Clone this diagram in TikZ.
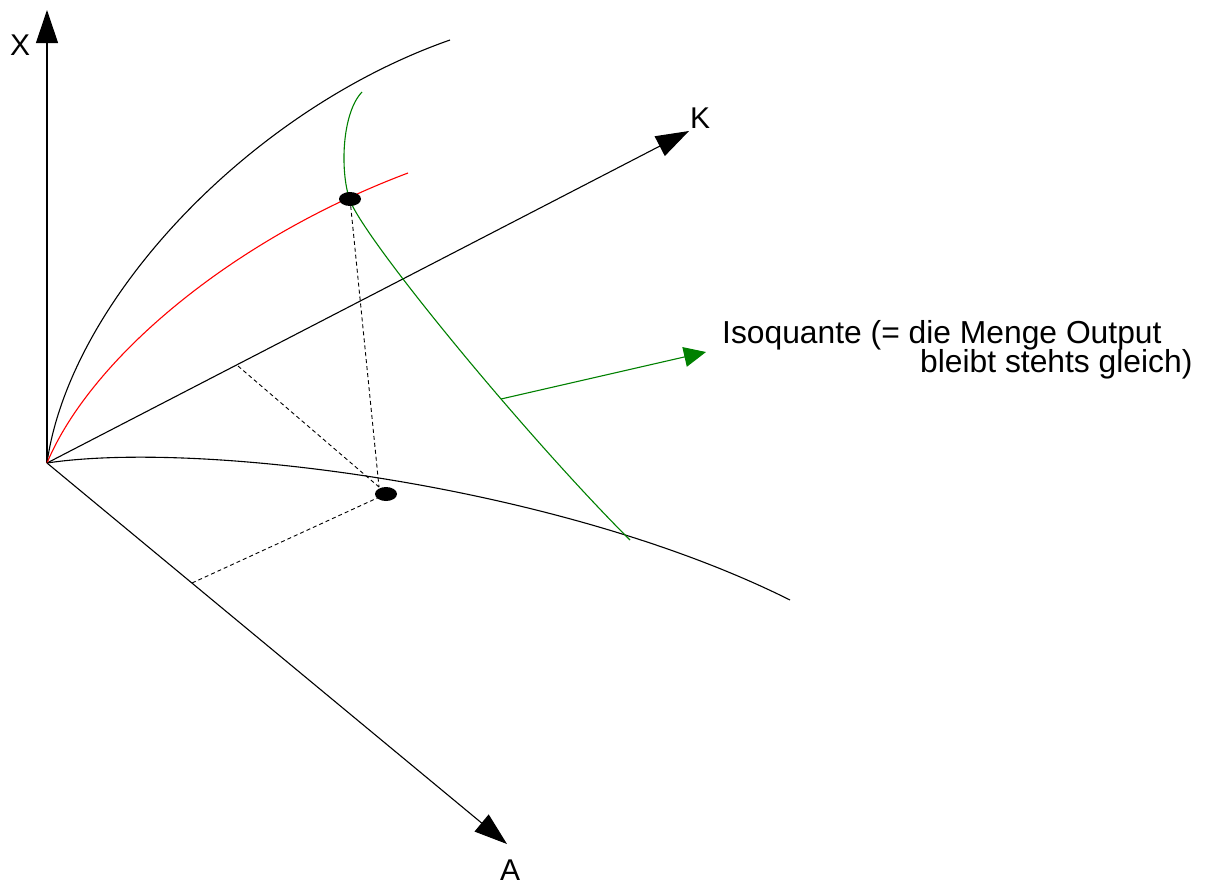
\documentclass[tikz,border=0pt]{standalone}
\usepackage{fontspec}
\setmainfont{Liberation Sans}
\usetikzlibrary{arrows.meta,shapes.geometric}
\definecolor{isogreen}{RGB}{0,128,0}
\begin{document}
\begin{tikzpicture}[x=1pt,y=-1pt,
  axis/.style={line width=1.1pt,-{Triangle[length=33pt,width=22pt]}},
  curve/.style={line width=1.1pt},
  guide/.style={line width=0.9pt,dash pattern=on 4pt off 3pt},
  point/.style={ellipse,fill=black,minimum width=22pt,minimum height=14pt,inner sep=0pt},
  lbl/.style={anchor=base west,inner sep=0pt,font=\fontsize{30}{36}\selectfont},
  note/.style={anchor=base west,inner sep=0pt,font=\fontsize{31.8}{36}\selectfont}]
\useasboundingbox (0,0) rectangle (1209,884);

% axes
\coordinate (O) at (47,463);
\coordinate (Xtip) at (47,10);
\coordinate (Ktip) at (689,131);
\coordinate (Atip) at (507,844);
\draw[axis] (O) -- (Xtip);
\draw[axis] (O) -- (Ktip);
\draw[axis] (O) -- (Atip);
\node[lbl] (lX) at (10,55) {X};
\node[lbl] (lK) at (690,128) {K};
\node[lbl] (lA) at (500,880) {A};

% production curves
\draw[curve] (O) .. controls (70,300) and (250,110) .. (450,40);
\draw[curve,red] (O) .. controls (90,360) and (230,240) .. (408,173);
\draw[curve] (O) .. controls (200,440) and (560,485) .. (790,600);

% isoquant
\draw[curve,isogreen] (362,92) .. controls (340,115) and (340,181) .. (352,205)
  .. controls (377,255) and (530,440) .. (630,540);

% points and projection lines
\node[point] (dotU) at (350,199) {};
\node[point] (dotL) at (386,494) {};
\coordinate (Kp) at (238,366);
\coordinate (Ap) at (192,583);
\coordinate (foot) at (379,487);
\draw[guide] (dotU.center) -- (foot);
\draw[guide] (Kp) -- (foot);
\draw[guide] (Ap) -- (dotL.center);

% annotation
\coordinate (aS) at (501,399);
\coordinate (aE) at (706,352);
\draw[isogreen,line width=1.1pt,-{Triangle[length=22pt,width=20pt]}] (aS) -- (aE);
\node[note] (t1) at (722,343) {Isoquante (= die Menge Output};
\node[note] (t2) at (920,372) {bleibt stehts gleich)};
\end{tikzpicture}
\end{document}
